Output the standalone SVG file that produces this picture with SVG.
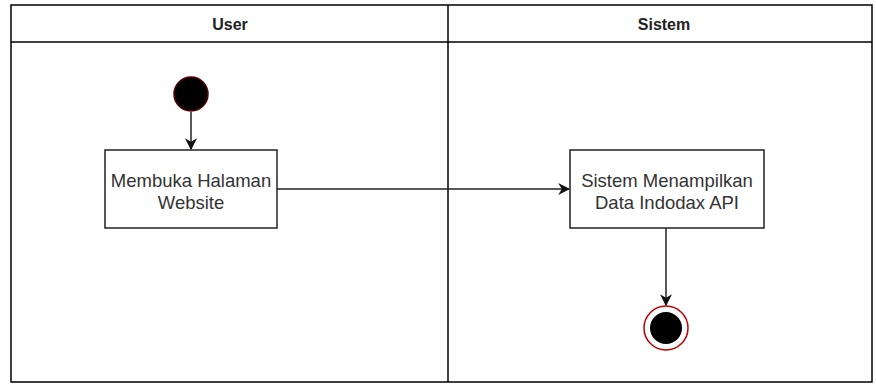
<svg xmlns="http://www.w3.org/2000/svg" width="876" height="385" viewBox="0 0 876 385">
<defs>
<style>
.lane{fill:#fff;stroke:#000;stroke-width:1.5}
.hdr{font-family:"Liberation Sans",Arial,sans-serif;font-size:16px;font-weight:bold;fill:#222;text-anchor:middle}
.box{fill:#fff;stroke:#222;stroke-width:1.5}
.lbl{font-family:"Liberation Sans",Arial,sans-serif;font-size:18.5px;fill:#333;text-anchor:middle}
.edge{fill:none;stroke:#222;stroke-width:1.5}
</style>
<marker id="arr" viewBox="0 0 10 10" refX="9" refY="5" markerWidth="12" markerHeight="12" markerUnits="userSpaceOnUse" orient="auto">
<path d="M0,0 L10,5 L0,10 L3,5 Z" fill="#111"/>
</marker>
</defs>
<g id="lanes">
<rect class="lane" x="11" y="5" width="861" height="377"/>
<line x1="11" y1="42" x2="872" y2="42" stroke="#000" stroke-width="1.5"/>
<line x1="448" y1="5" x2="448" y2="382" stroke="#000" stroke-width="1.5"/>
<text class="hdr" x="230" y="30">User</text>
<text class="hdr" x="664" y="30">Sistem</text>
</g>
<g id="connectors">
<line class="edge" x1="191" y1="112" x2="191" y2="149" marker-end="url(#arr)"/>
<line class="edge" x1="277" y1="189" x2="569" y2="189" marker-end="url(#arr)"/>
<line class="edge" x1="666" y1="228" x2="666" y2="305" marker-end="url(#arr)"/>
</g>
<g id="start">
<circle cx="191" cy="94" r="17" fill="#000" stroke="#5a0000" stroke-width="1.5"/>
</g>
<g id="membuka">
<rect class="box" x="105" y="150" width="172" height="78"/>
<text class="lbl" x="191" y="187">Membuka Halaman</text>
<text class="lbl" x="191" y="209">Website</text>
</g>
<g id="sistem">
<rect class="box" x="570" y="150" width="194" height="78"/>
<text class="lbl" x="667" y="187">Sistem Menampilkan</text>
<text class="lbl" x="667" y="209">Data Indodax API</text>
</g>
<g id="end">
<circle cx="666" cy="328" r="22" fill="#fff" stroke="#c00000" stroke-width="1.5"/>
<circle cx="666" cy="328" r="16" fill="#000"/>
</g>
</svg>
